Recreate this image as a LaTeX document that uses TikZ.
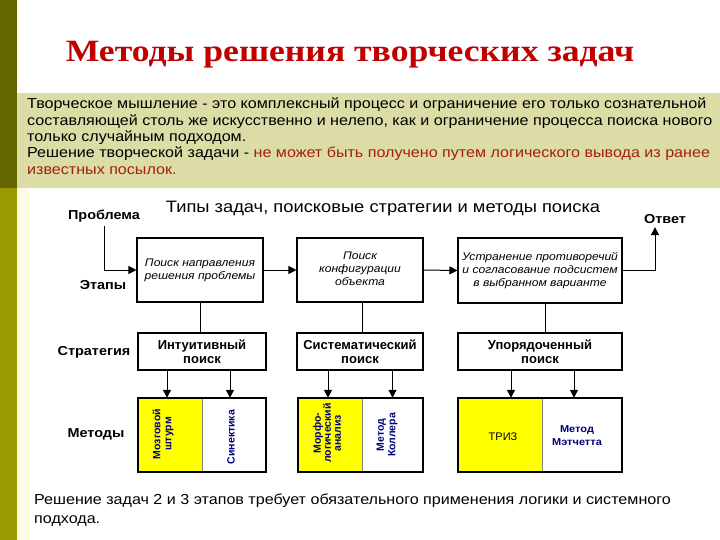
\documentclass[tikz,border=0pt]{standalone}
\usepackage{fontspec}
\usepackage{graphicx}
\setmainfont{Liberation Sans}
\newfontfamily\titlefont{Liberation Serif}
\usetikzlibrary{arrows.meta}
\definecolor{olivedark}{RGB}{102,102,0}
\definecolor{olivelight}{RGB}{153,153,0}
\definecolor{palestrip}{RGB}{251,251,230}
\definecolor{beige}{RGB}{220,220,166}
\definecolor{titlered}{RGB}{192,0,0}
\definecolor{textred}{RGB}{165,30,15}
\definecolor{navy}{RGB}{0,0,128}
\definecolor{methyellow}{RGB}{255,255,0}
\newcommand\hs[1]{\scalebox{1.11}[1]{#1}}
\newcommand\hsl[1]{\scalebox{1.1}[1]{\begin{tabular}{@{}c@{}}#1\end{tabular}}}
\tikzset{
  lbl/.style={font=\fontsize{13}{15}\selectfont\bfseries},
  bodyline/.style={anchor=base west, inner sep=0pt, font=\fontsize{14.5}{16}\selectfont},
  stagebox/.style={draw, line width=1.1pt, fill=white, align=center, inner sep=2pt,
    font=\fontsize{11}{13}\selectfont\itshape},
  stratbox/.style={draw, line width=1.1pt, fill=white, align=center, inner sep=2pt,
    font=\fontsize{13}{14.5}\selectfont\bfseries},
  methcell/.style={inner sep=0pt, minimum height=74pt},
  methtext/.style={text=navy, align=center, inner sep=0pt},
  conn/.style={line width=1pt},
  arr/.style={line width=1pt, -{Triangle[length=8pt,width=8pt]}},
}
\begin{document}
\begin{tikzpicture}[x=1pt,y=-1pt]
\useasboundingbox (0,0) rectangle (720,540);
% background
\fill[white] (0,0) rectangle (720,540);
\fill[olivedark] (0,0) rectangle (17,188);
\fill[olivelight] (0,188) rectangle (17,540);
\fill[palestrip] (17,188) rectangle (29,540);
\fill[beige] (17,93) rectangle (720,188);

% title
\node[anchor=base, text=titlered, font=\titlefont\bfseries\fontsize{31}{34}\selectfont] (title) at (350,62)
  {\scalebox{1.15}[1]{Методы решения творческих задач}};

% body text
\node[bodyline] (l1) at (27,109) {\hs{Творческое мышление - это комплексный процесс и ограничение его только сознательной}};
\node[bodyline] (l2) at (27,125.5) {\hs{составляющей столь же искусственно и нелепо, как и ограничение процесса поиска нового}};
\node[bodyline] (l3) at (27,142) {\hs{только случайным подходом.}};
\node[bodyline] (l4) at (27,158) {\hs{Решение творческой задачи - \textcolor{textred}{не может быть получено путем логического вывода из ранее}}};
\node[bodyline, text=textred] (l5) at (27,174.5) {\hs{известных посылок.}};

% subtitle
\node[font=\fontsize{16.5}{18}\selectfont] (sub) at (383,209) {\hs{Типы задач, поисковые стратегии и методы поиска}};

% row labels
\node[lbl] (prob) at (104,216) {\hs{Проблема}};
\node[lbl] (otv) at (665,219) {\hs{Ответ}};
\node[lbl] (etapy) at (103,285) {\hs{Этапы}};
\node[lbl] (strat) at (94,352) {\hs{Стратегия}};
\node[lbl] (metody) at (96,434) {\hs{Методы}};

% stage boxes
\node[stagebox, minimum width=126pt, minimum height=64pt] (B1) at (200,270)
  {\hsl{Поиск направления\\решения проблемы}};
\node[stagebox, minimum width=126pt, minimum height=64pt] (B2) at (360,270)
  {\hsl{Поиск\\конфигурации\\объекта}};
\node[stagebox, minimum width=164pt, minimum height=65pt] (B3) at (540,270.5)
  {\hsl{Устранение противоречий\\и согласование подсистем\\в выбранном варианте}};

% strategy boxes
\node[stratbox, minimum width=128pt, minimum height=37pt] (S1) at (202,351.5) {Интуитивный\\поиск};
\node[stratbox, minimum width=126pt, minimum height=37pt] (S2) at (360,351.5) {Систематический\\поиск};
\node[stratbox, minimum width=164pt, minimum height=37pt] (S3) at (540,351.5) {Упорядоченный\\поиск};

% method cells
\node[methcell, fill=methyellow, minimum width=64pt] (M1a) at (170,435) {};
\node[methcell, fill=white, minimum width=64pt] (M1b) at (234,435) {};
\node[methcell, fill=methyellow, minimum width=64pt] (M2a) at (330,435) {};
\node[methcell, fill=white, minimum width=61pt] (M2b) at (392.5,435) {};
\node[methcell, fill=methyellow, minimum width=84pt] (M3a) at (500,435) {};
\node[methcell, fill=white, minimum width=80pt] (M3b) at (582,435) {};
\draw[gray, line width=1pt] (M1a.north east) -- (M1a.south east);
\draw[gray, line width=1pt] (M2a.north east) -- (M2a.south east);
\draw[gray, line width=1pt] (M3a.north east) -- (M3a.south east);
\draw[line width=2pt] (M1a.north west) rectangle (M1b.south east);
\draw[line width=2pt] (M2a.north west) rectangle (M2b.south east);
\draw[line width=2pt] (M3a.north west) rectangle (M3b.south east);

% method texts
\node[methtext, rotate=90, font=\fontsize{10.5}{11}\selectfont\bfseries] (t1) at (163,434) {Мозговой\\штурм};
\node[methtext, rotate=90, font=\fontsize{10.5}{12}\selectfont\bfseries] (t2) at (231,437) {Синектика};
\node[methtext, rotate=90, font=\fontsize{10.5}{10}\selectfont\bfseries] (t3) at (327,433) {Морфо-\\логический\\анализ};
\node[methtext, rotate=90, font=\fontsize{10.5}{11.5}\selectfont\bfseries] (t4) at (387,435) {Метод\\Коллера};
\node[methtext, text=black, font=\fontsize{11}{12}\selectfont] (t5) at (503,437) {ТРИЗ};
\node[methtext, font=\fontsize{10}{13}\selectfont\bfseries] (t6) at (577,436) {\hsl{Метод\\Мэтчетта}};

% connectors
\draw[arr] (prob.south) -- (prob.south |- B1.west) -- (B1.west);
\draw[arr] (B1.east) -- (B2.west);
\draw[arr] (B2.east) -- (B3.west);
\coordinate (otvin) at ([xshift=-10pt]otv.south);
\draw[arr] (B3.east) -| (otvin);
\draw[conn] (B1.south) -- (B1.south |- S1.north);
\draw[conn] ([xshift=2pt]B2.south) -- ([xshift=2pt]B2.south |- S2.north);
\draw[conn] ([xshift=5pt]B3.south) -- ([xshift=5pt]B3.south |- S3.north);
\draw[arr] ([xshift=-3pt]M1a.north |- S1.south) -- ([xshift=-3pt]M1a.north);
\draw[arr] ([xshift=-4pt]M1b.north |- S1.south) -- ([xshift=-4pt]M1b.north);
\draw[arr] ([xshift=-2pt]M2a.north |- S2.south) -- ([xshift=-2pt]M2a.north);
\draw[arr] (M2b.north |- S2.south) -- (M2b.north);
\draw[arr] ([xshift=11pt]M3a.north |- S3.south) -- ([xshift=11pt]M3a.north);
\draw[arr] ([xshift=-8pt]M3b.north |- S3.south) -- ([xshift=-8pt]M3b.north);

% bottom text
\node[bodyline] (b1) at (34,504) {\hs{Решение задач 2 и 3 этапов требует обязательного применения логики и системного}};
\node[bodyline] (b2) at (34,523) {\hs{подхода.}};
\end{tikzpicture}
\end{document}
